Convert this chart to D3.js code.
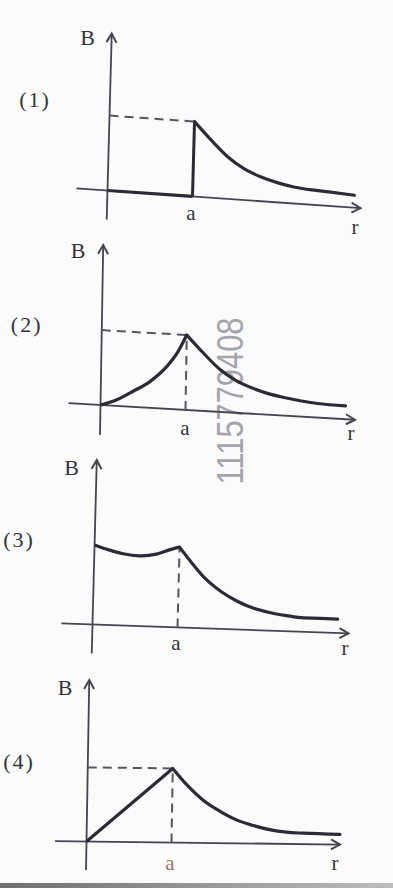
<!DOCTYPE html>
<html>
<head>
<meta charset="utf-8">
<script src="https://cdn.jsdelivr.net/npm/d3@7"></script>
<style>
  html, body { margin: 0; padding: 0; background: #fbfbfb; }
  #chart { width: 393px; height: 888px; }
</style>
</head>
<body>
<div id="chart"></div>
<script>
// Data (r in units of a, B in units of the dashed level)
const panelNames = ["(1)", "(2)", "(3)", "(4)"]
const axisLabelY = "B"
const axisLabelX = "r"
const tickLabel = "a"
const watermark = "1115779408"

const rIn1 = [0, 1]
const bIn1 = [0, 0]
const rOut1 = [1.0, 1.2, 1.4, 1.6, 1.8, 2.0, 2.2, 2.4, 2.6, 2.9]
const bOut1 = [0.96, 0.74, 0.54, 0.40, 0.31, 0.25, 0.21, 0.19, 0.18, 0.16]

const rIn2 = [0, 0.19, 0.38, 0.58, 0.77, 0.89, 1.0]
const bIn2 = [0, 0.08, 0.20, 0.34, 0.54, 0.72, 0.96]
const rOut2 = [1.0, 1.2, 1.39, 1.58, 1.78, 1.97, 2.17, 2.36, 2.55, 2.88]
const bOut2 = [0.96, 0.74, 0.55, 0.42, 0.33, 0.27, 0.23, 0.20, 0.18, 0.17]

const rIn3 = [0, 0.18, 0.34, 0.53, 0.73, 0.88, 1.0]
const bIn3 = [1.02, 0.96, 0.92, 0.90, 0.93, 0.99, 1.03]
const rOut3 = [1.0, 1.12, 1.31, 1.5, 1.7, 1.89, 2.09, 2.28, 2.48, 2.88]
const bOut3 = [1.03, 0.87, 0.64, 0.48, 0.36, 0.28, 0.23, 0.20, 0.18, 0.18]

const rIn4 = [0, 1]
const bIn4 = [0, 0.95]
const rOut4 = [1.0, 1.17, 1.36, 1.56, 1.76, 1.96, 2.15, 2.35, 2.55, 2.98]
const bOut4 = [0.95, 0.74, 0.55, 0.41, 0.30, 0.23, 0.18, 0.15, 0.14, 0.13]

const zip = (rs, bs) => rs.map((r, i) => ({ r: r, b: bs[i] }))

// Layout of each scanned panel (origin, slight tilt of the scan, axis extents, label spots)
const panels = [
    { inside: zip(rIn1, bIn1), outside: zip(rOut1, bOut1), insideCurve: d3.curveLinear, step: true, hGuide: true,
      origin: [107.5, 190.5], skew: [0.07, -0.027], xExt: [-31, 253], yExt: [29, -157],
      bPos: [87.5, 45], nPos: [35, 107], aPos: [190.8, 220], rPos: [355, 234], aColor: "#33333d" },
    { inside: zip(rIn2, bIn2), outside: zip(rOut2, bOut2), insideCurve: d3.curveMonotoneX, step: false, hGuide: true,
      origin: [100.5, 405], skew: [0.058, -0.017], xExt: [-32, 254.5], yExt: [30, -160],
      bPos: [78, 258], nPos: [26.7, 332], aPos: [185, 435], rPos: [351, 440], aColor: "#33333d" },
    { inside: zip(rIn3, bIn3), outside: zip(rOut3, bOut3), insideCurve: d3.curveMonotoneX, step: false, hGuide: false,
      origin: [92.5, 624.5], skew: [0.035, -0.026], xExt: [-31, 256], yExt: [29, -164.5],
      bPos: [71.5, 475], nPos: [19, 547], aPos: [176, 650], rPos: [345, 655], aColor: "#33333d" },
    { inside: zip(rIn4, bIn4), outside: zip(rOut4, bOut4), insideCurve: d3.curveLinear, step: false, hGuide: true,
      origin: [86.5, 841.5], skew: [0.012, -0.017], xExt: [-31.5, 253.5], yExt: [28.5, -161.5],
      bPos: [65, 695], nPos: [19, 769], aPos: [170, 870], rPos: [335, 870], aColor: "#9a7565" }
]

const width = 393
const height = 888

// Scales shared by all panels
const x = d3.scaleLinear().domain([0, 1]).range([0, 85])
const y = d3.scaleLinear().domain([0, 1]).range([0, -78])

const svg = d3.select("#chart")
    .append("svg")
    .attr("width", width)
    .attr("height", height)

// Paper
const paper = svg.append("defs").append("linearGradient")
    .attr("id", "edge")
paper.append("stop").attr("offset", "0%").attr("stop-color", "#6f6f72")
paper.append("stop").attr("offset", "100%").attr("stop-color", "#bdbdc0")

svg.append("rect")
    .attr("width", width)
    .attr("height", height)
    .attr("fill", "#fbfbfb")

svg.append("rect")
    .attr("x", 0)
    .attr("y", 883)
    .attr("width", width)
    .attr("height", 5)
    .attr("fill", "url(#edge)")

const serif = "'Liberation Serif', 'DejaVu Serif', serif"
const ink = "#2b2b36"
const axisInk = "#45454f"
const textInk = "#33333d"

// Watermark
svg.append("text")
    .attr("transform", "translate(243, 401) rotate(-90)")
    .attr("text-anchor", "middle")
    .attr("textLength", 167)
    .attr("lengthAdjust", "spacingAndGlyphs")
    .style("font-family", "'Liberation Sans', Arial, sans-serif")
    .style("font-size", "36px")
    .style("fill", "#a4a4ac")
    .text(watermark)

const line = d3.line()
    .x(d => x(d.r))
    .y(d => y(d.b))

panels.forEach((p, i) => {
    const g = svg.append("g")
        .attr("transform", `matrix(1, ${p.skew[0]}, ${p.skew[1]}, 1, ${p.origin[0]}, ${p.origin[1]})`)

    const peak = p.outside[0]

    // axes
    g.append("line")
        .attr("x1", p.xExt[0]).attr("y1", 0)
        .attr("x2", p.xExt[1]).attr("y2", 0)
        .style("stroke", axisInk)
        .style("stroke-width", 1.8)
    g.append("path")
        .attr("d", `M${p.xExt[1] - 9},-5 L${p.xExt[1]},0 L${p.xExt[1] - 9},5`)
        .style("fill", "none")
        .style("stroke", axisInk)
        .style("stroke-width", 2)

    g.append("line")
        .attr("x1", 0).attr("y1", p.yExt[0])
        .attr("x2", 0).attr("y2", p.yExt[1])
        .style("stroke", axisInk)
        .style("stroke-width", 1.8)
    g.append("path")
        .attr("d", `M-5,${p.yExt[1] + 9} L0,${p.yExt[1]} L5,${p.yExt[1] + 9}`)
        .style("fill", "none")
        .style("stroke", axisInk)
        .style("stroke-width", 2)

    // dashed guides
    if (p.hGuide) {
        g.append("line")
            .attr("x1", 0).attr("y1", y(peak.b))
            .attr("x2", x(peak.r)).attr("y2", y(peak.b))
            .style("stroke", "#55555f")
            .style("stroke-width", 2)
            .style("stroke-dasharray", "9,6")
    }
    if (!p.step) {
        g.append("line")
            .attr("x1", x(peak.r)).attr("y1", 0)
            .attr("x2", x(peak.r)).attr("y2", y(peak.b))
            .style("stroke", "#55555f")
            .style("stroke-width", 2)
            .style("stroke-dasharray", "9,6")
    }

    // field curve
    g.append("path")
        .datum(p.inside)
        .attr("d", line.curve(p.insideCurve))
        .style("fill", "none")
        .style("stroke", ink)
        .style("stroke-width", 3.2)

    if (p.step) {
        g.append("line")
            .attr("x1", x(peak.r)).attr("y1", 0)
            .attr("x2", x(peak.r)).attr("y2", y(peak.b))
            .style("stroke", ink)
            .style("stroke-width", 3)
    }

    g.append("path")
        .datum(p.outside)
        .attr("d", line.curve(d3.curveMonotoneX))
        .style("fill", "none")
        .style("stroke", ink)
        .style("stroke-width", 3.2)
        .style("stroke-linecap", "round")

    // labels
    svg.append("text")
        .attr("x", p.bPos[0]).attr("y", p.bPos[1])
        .attr("text-anchor", "middle")
        .style("font-family", serif)
        .style("font-size", "22px")
        .style("fill", textInk)
        .text(axisLabelY)

    svg.append("text")
        .attr("x", p.nPos[0]).attr("y", p.nPos[1])
        .attr("text-anchor", "middle")
        .style("font-family", serif)
        .style("font-size", "22px")
        .style("letter-spacing", "2px")
        .style("fill", textInk)
        .text(panelNames[i])

    svg.append("text")
        .attr("x", p.aPos[0]).attr("y", p.aPos[1])
        .attr("text-anchor", "middle")
        .style("font-family", serif)
        .style("font-size", "21px")
        .style("fill", p.aColor)
        .text(tickLabel)

    svg.append("text")
        .attr("x", p.rPos[0]).attr("y", p.rPos[1])
        .attr("text-anchor", "middle")
        .style("font-family", serif)
        .style("font-size", "21px")
        .style("fill", textInk)
        .text(axisLabelX)
})
</script>
</body>
</html>
